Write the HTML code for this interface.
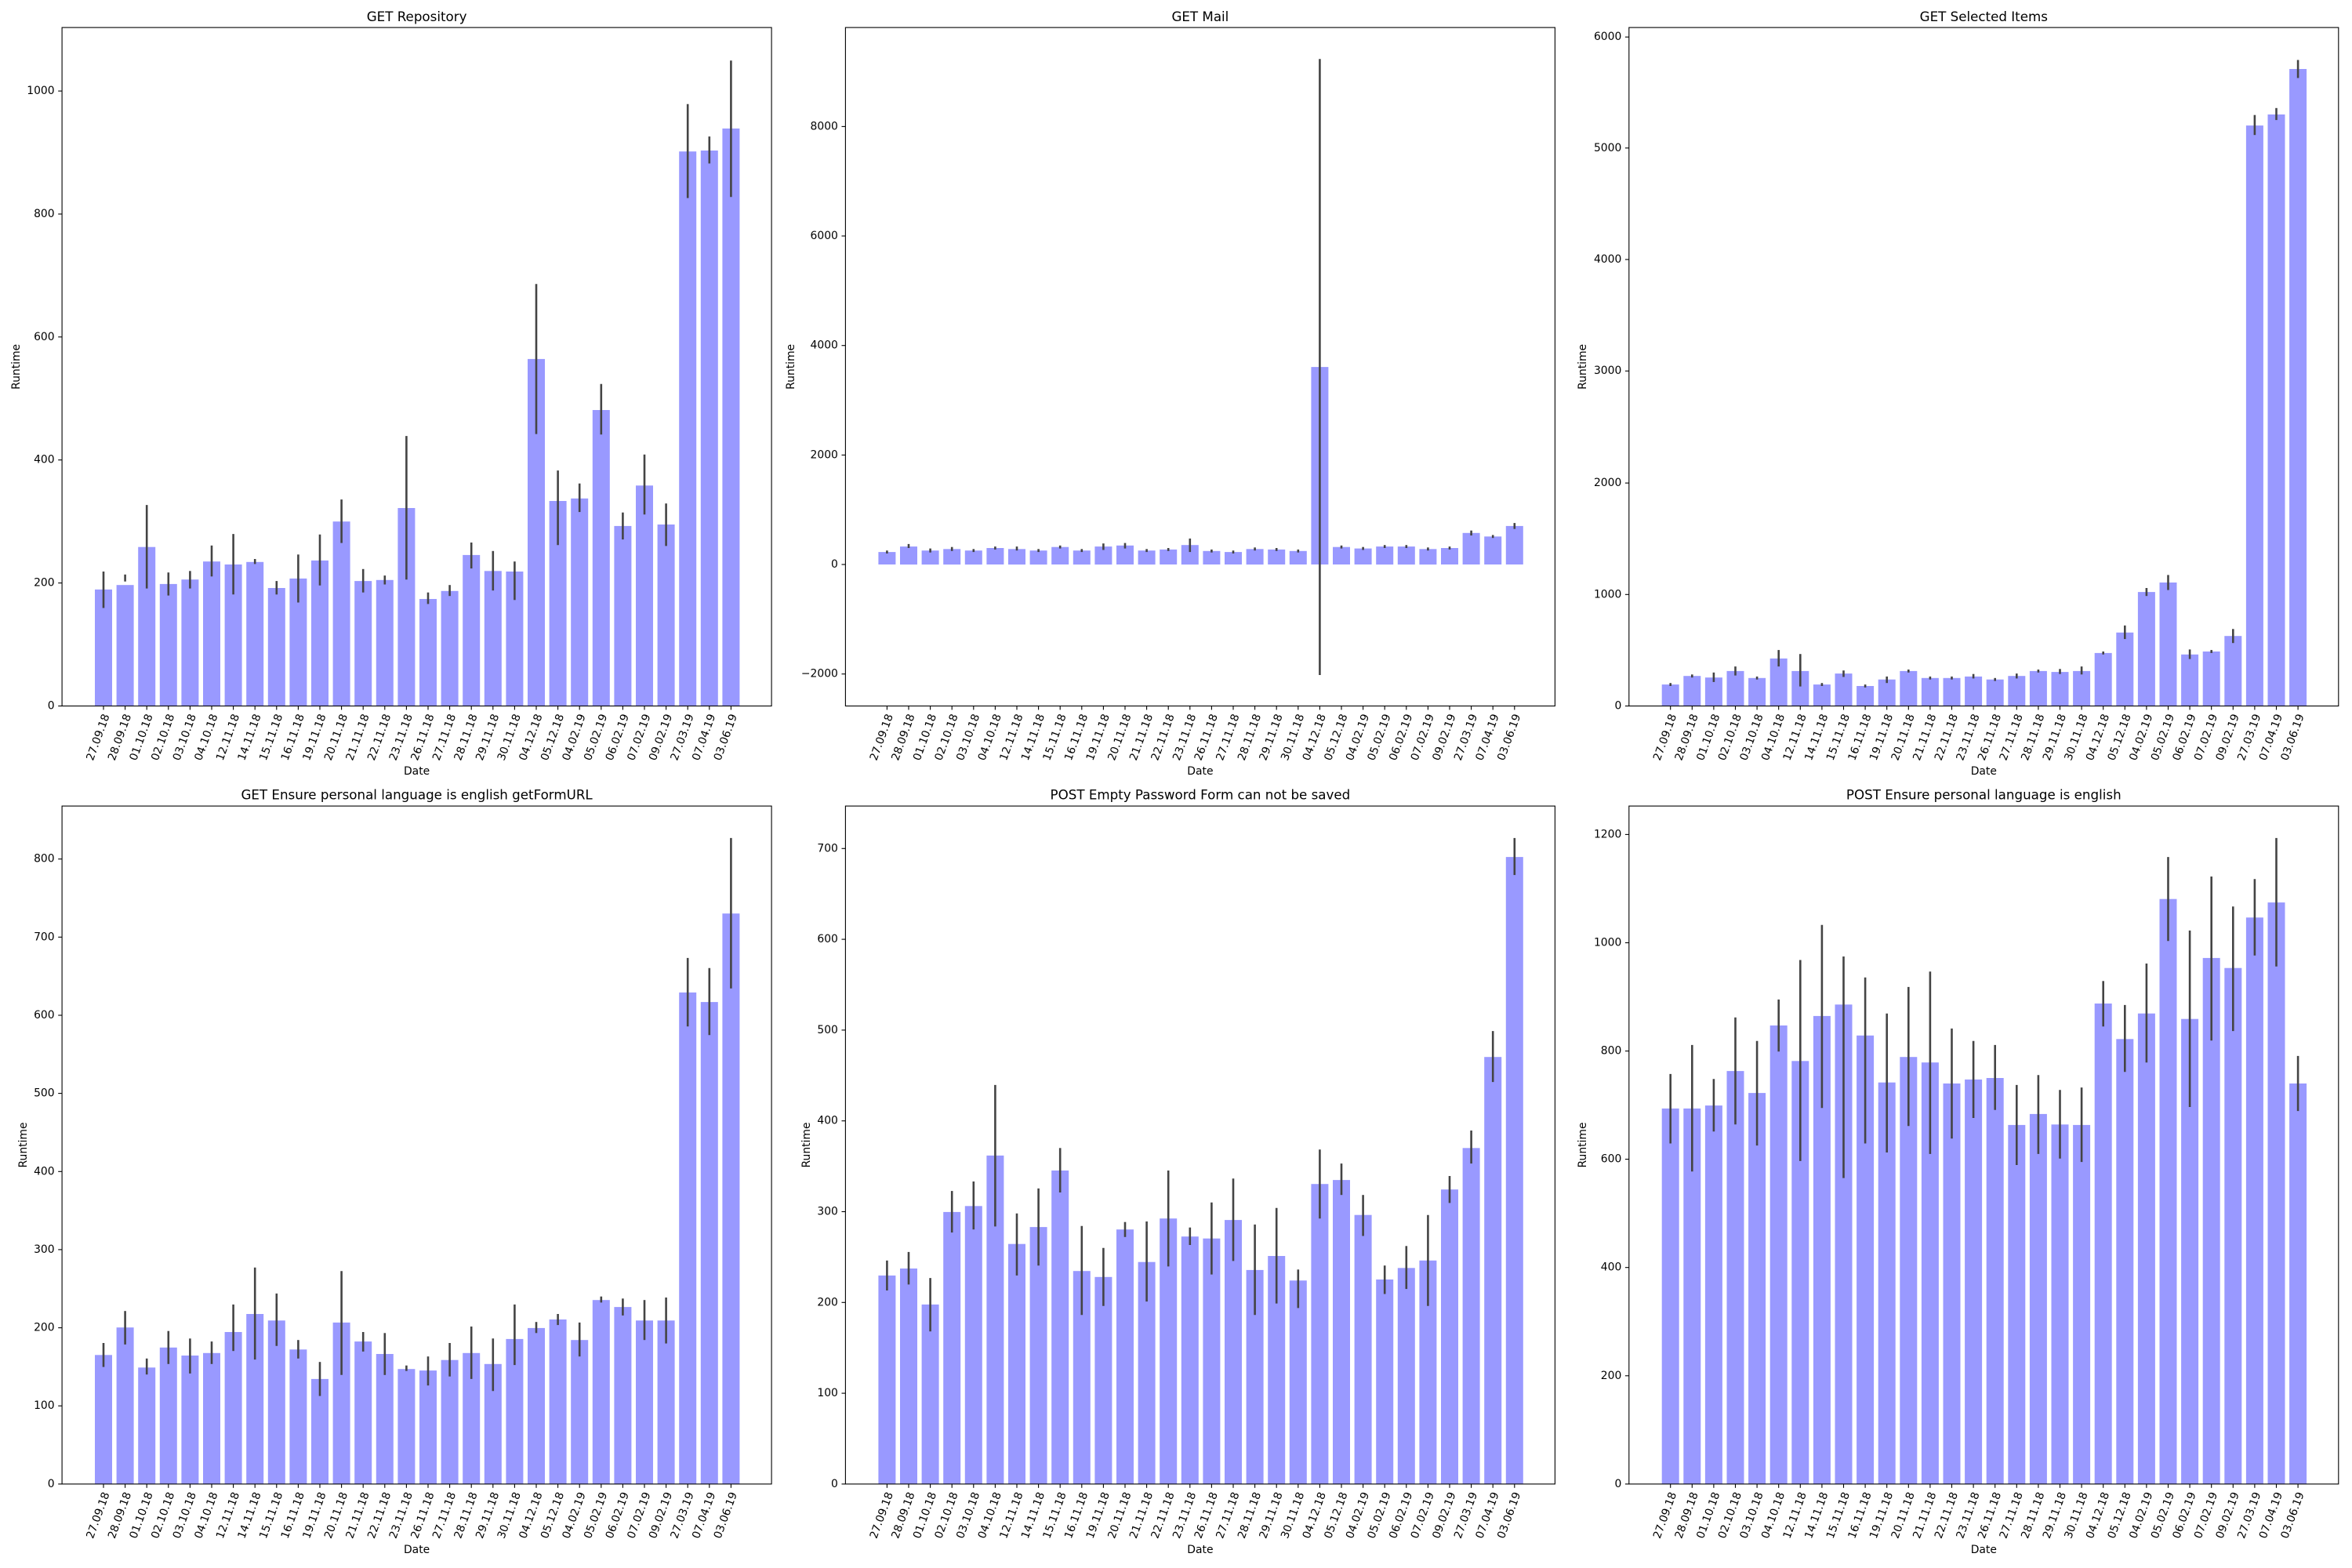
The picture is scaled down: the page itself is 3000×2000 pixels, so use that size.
<!DOCTYPE html>
<html><head><meta charset="utf-8">
<style>
html,body{margin:0;padding:0;background:#fff;}
svg{display:block;font-family:"DejaVu Sans","Liberation Sans",sans-serif;}
</style></head>
<body>
<svg id="s" width="3000" height="2000" viewBox="0 0 3000 2000" xmlns="http://www.w3.org/2000/svg"></svg>
<script>
const dates=["27.09.18","28.09.18","01.10.18","02.10.18","03.10.18","04.10.18","12.11.18","14.11.18","15.11.18","16.11.18","19.11.18","20.11.18","21.11.18","22.11.18","23.11.18","26.11.18","27.11.18","28.11.18","29.11.18","30.11.18","04.12.18","05.12.18","04.02.19","05.02.19","06.02.19","07.02.19","09.02.19","27.03.19","07.04.19","03.06.19"];
const P=[
{title:"GET Repository",zx:124,zx0:0,row:0,ylab:21,zero:1412,
 ticks:[[0,1412],[200,1166],[400,920],[600,674],[800,428],[1000,182]],
 tops:[1179,1170,1094,1168,1159,1123,1129,1124,1176,1157,1121,1043,1162,1160,1016,1198,1182,1110,1142,1143,718,1002,997,820,1052,971,1049,303,301,257],
 errs:[[1143,1216],[1149,1163],[1010,1177],[1145,1191],[1142,1177],[1091,1153],[1068,1189],[1118,1128],[1162,1189],[1109,1205],[1069,1171],[999,1086],[1138,1185],[1151,1169],[872,1159],[1185,1208],[1170,1192],[1085,1137],[1102,1181],[1123,1200],[568,868],[941,1090],[967,1024],[768,869],[1025,1079],[909,1029],[1007,1092],[208,396],[273,327],[121,394]]},
{title:"GET Mail",zx:123,zx0:1000,row:0,ylab:1009,zero:1129,
 ticks:[[-2000,1348],[0,1129],[2000,910],[4000,691],[6000,472],[8000,253]],
 tops:[1104,1093,1101,1098,1101,1096,1098,1101,1094,1101,1093,1091,1101,1099,1090,1102,1104,1098,1099,1102,734,1094,1097,1093,1093,1098,1096,1066,1073,1052],
 errs:null,
 special:{1:[1088,1096],2:[1097,1105],3:[1094,1102],5:[1093,1099],6:[1093,1101],10:[1087,1100],11:[1086,1097],14:[1077,1104],20:[118,1350],27:[1061,1071],29:[1046,1058]}},
{title:"GET Selected Items",zx:122,zx0:2000,row:0,ylab:2019,zero:1412,
 ticks:[[0,1412],[1000,1189],[2000,966],[3000,742],[4000,519],[5000,296],[6000,74]],
 tops:[1369,1352,1355,1342,1356,1317,1342,1369,1347,1372,1359,1342,1356,1356,1353,1359,1352,1342,1344,1342,1306,1265,1184,1165,1309,1303,1272,251,229,138],
 errs:null,
 special:{2:[1345,1364],3:[1333,1351],5:[1300,1333],6:[1308,1373],8:[1341,1354],10:[1353,1366],14:[1348,1357],16:[1347,1357],18:[1338,1348],19:[1333,1349],21:[1251,1278],22:[1176,1192],23:[1150,1180],24:[1299,1318],26:[1258,1286],27:[230,270],28:[216,240],29:[120,156]}},
{title:"GET Ensure personal language is english getFormURL",zx:124,zx0:0,row:1,ylab:30,zero:1400,
 ticks:[0,1,2,3,4,5,6,7,8].map(i=>[i*100,1400-i*156.25]),
 tops:[1142,1087,1167,1127,1143,1138,1096,1060,1073,1131,1190,1077,1115,1140,1170,1173,1152,1138,1160,1110,1088,1071,1112,1032,1046,1073,1073,417,436,259],
 errs:[[1118,1166],[1054,1121],[1149,1181],[1094,1160],[1109,1179],[1115,1160],[1041,1134],[967,1151],[1019,1124],[1112,1149],[1156,1224],[974,1182],[1096,1135],[1098,1182],[1163,1174],[1145,1203],[1118,1185],[1085,1190],[1109,1214],[1041,1162],[1076,1098],[1060,1082],[1077,1145],[1025,1037],[1029,1063],[1032,1112],[1027,1119],[348,485],[368,502],[108,409]]},
{title:"POST Empty Password Form can not be saved",zx:123,zx0:1000,row:1,ylab:1029,zero:1400,
 ticks:[0,1,2,3,4,5,6,7].map(i=>[i*100,1400-i*181.57]),
 tops:[983,969,1041,856,844,743,920,886,773,974,986,891,956,869,905,909,872,972,944,993,800,792,862,991,968,953,811,728,546,146],
 errs:[[953,1013],[936,1001],[988,1095],[814,897],[795,891],[602,885],[859,983],[809,963],[728,817],[884,1062],[928,1044],[876,906],[875,1035],[773,965],[887,922],[837,981],[789,954],[881,1062],[848,1039],[971,1048],[731,869],[759,822],[822,904],[963,1020],[924,1010],[862,1044],[784,838],[693,759],[494,596],[108,182]]},
{title:"POST Ensure personal language is english",zx:122,zx0:2000,row:1,ylab:2019,zero:1400,
 ticks:[0,1,2,3,4,5,6].map(i=>[i*200,1400-i*216.5]),
 tops:[649,649,643,574,618,483,554,464,441,503,597,546,557,599,591,588,682,660,681,682,439,510,459,230,470,348,368,267,237,599],
 errs:[[580,719],[522,775],[590,695],[467,681],[514,723],[431,535],[352,754],[282,648],[345,788],[387,719],[459,737],[406,684],[375,740],[489,709],[514,668],[522,652],[602,762],[582,740],[612,749],[607,756],[394,485],[442,576],[359,557],[146,314],[293,646],[185,513],[245,494],[190,343],[108,365],[544,654]]}
];
const K=1.568;
const W=1419/K, SP=1255/29/K, OFF=83/K, BW=34.5/K;
let out="";
for(const p of P){
  const ro=p.row?1000:0;
  const ztop=p.row?44:55, zbot=p.row?1400:1412;
  const L=p.zx0+p.zx/K, R=L+W, T=ro+ztop/K, B=ro+zbot/K;
  const Y=z=>ro+z/K;
  const zeroY=Y(p.zero);
  let errs=p.errs;
  if(!errs){errs=p.tops.map(t=>[t-3,t+3]);for(const k in p.special)errs[k]=p.special[k];}
  for(let i=0;i<30;i++){
    const cx=L+OFF+i*SP, top=Y(p.tops[i]);
    out+=`<rect x="${(cx-BW/2).toFixed(1)}" y="${top.toFixed(1)}" width="${BW.toFixed(1)}" height="${(zeroY-top).toFixed(1)}" fill="#9999ff"/>`;
  }
  for(let i=0;i<30;i++){
    const cx=L+OFF+i*SP;
    out+=`<line x1="${cx.toFixed(1)}" x2="${cx.toFixed(1)}" y1="${Y(errs[i][0]).toFixed(1)}" y2="${Y(errs[i][1]).toFixed(1)}" stroke="#444" stroke-width="2.6"/>`;
  }
  out+=`<rect x="${L.toFixed(1)}" y="${T.toFixed(1)}" width="${W.toFixed(1)}" height="${(B-T).toFixed(1)}" fill="none" stroke="#000" stroke-width="1.1"/>`;
  for(const [v,z] of p.ticks){
    const y=Y(z);
    out+=`<line x1="${(L-4.9).toFixed(1)}" x2="${L.toFixed(1)}" y1="${y.toFixed(1)}" y2="${y.toFixed(1)}" stroke="#000" stroke-width="1.1"/>`;
    out+=`<text x="${(L-9.5).toFixed(1)}" y="${y.toFixed(1)}" font-size="13.9" text-anchor="end" dominant-baseline="central">${v<0?"\u2212"+(-v):v}</text>`;
  }
  for(let i=0;i<30;i++){
    const cx=L+OFF+i*SP;
    out+=`<line x1="${cx.toFixed(1)}" x2="${cx.toFixed(1)}" y1="${B.toFixed(1)}" y2="${(B+4.9).toFixed(1)}" stroke="#000" stroke-width="1.1"/>`;
    const ax=cx+4, ay=B+11;
    out+=`<text x="${ax.toFixed(1)}" y="${ay.toFixed(1)}" font-size="13.9" text-anchor="end" dominant-baseline="central" transform="rotate(-70 ${ax.toFixed(1)} ${ay.toFixed(1)})">${dates[i]}</text>`;
  }
  const mx=(L+R)/2;
  out+=`<text x="${mx.toFixed(1)}" y="${(ro+(p.row?21:33)/K).toFixed(1)}" font-size="16.7" text-anchor="middle" dominant-baseline="central">${p.title}</text>`;
  out+=`<text x="${mx.toFixed(1)}" y="${(ro+(p.row?1532:1543)/K).toFixed(1)}" font-size="13.9" text-anchor="middle" dominant-baseline="central">Date</text>`;
  const ly=(T+B)/2;
  out+=`<text x="${p.ylab}" y="${ly.toFixed(1)}" font-size="13.9" text-anchor="middle" dominant-baseline="central" transform="rotate(-90 ${p.ylab} ${ly.toFixed(1)})">Runtime</text>`;
}
document.getElementById("s").innerHTML=out;
</script>
</body></html>
